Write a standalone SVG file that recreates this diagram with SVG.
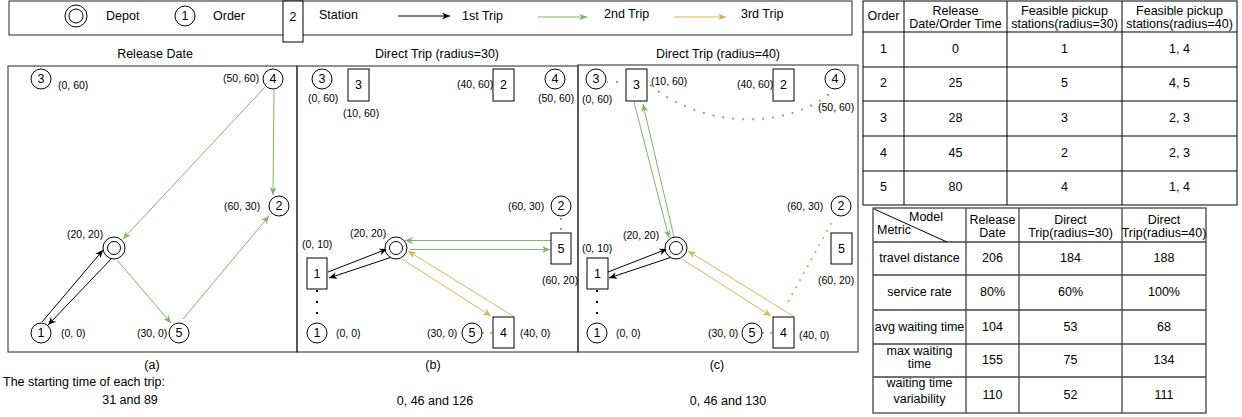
<svg xmlns="http://www.w3.org/2000/svg" width="1242" height="417" viewBox="0 0 1242 417">
<defs>
<style>
text{font-family:"Liberation Sans",Arial,Helvetica,sans-serif;fill:#000;}
.t{font-size:12.5px;}
.c{font-size:10.5px;dominant-baseline:central;}
.m{text-anchor:middle;dominant-baseline:central;font-size:12.5px;}
.l{dominant-baseline:central;font-size:12.5px;}
.nd{fill:#fff;stroke:#000;stroke-width:1;}
.box{fill:none;stroke:#222;stroke-width:1;}
.tb{fill:none;stroke:#000;stroke-width:1;}
.tb2{fill:none;stroke:#444;stroke-width:1.3;}
.k{stroke:#000;stroke-width:1;fill:none;}
.g{stroke:#82b366;stroke-width:1;fill:none;}
.y{stroke:#d6b656;stroke-width:1;fill:none;}
.gd{stroke:#82b366;stroke-width:2;fill:none;stroke-dasharray:2 8;}
.yd{stroke:#d6b656;stroke-width:2;fill:none;stroke-dasharray:2 6;}
.kd{stroke:#000;stroke-width:2;fill:none;stroke-dasharray:2 9;}
</style>
<marker id="ak" markerUnits="userSpaceOnUse" markerWidth="9" markerHeight="8" refX="8" refY="3.5" orient="auto"><path d="M0,0 L8,3.5 L0,7 L2.5,3.5 Z" fill="#000"/></marker>
<marker id="ag" markerUnits="userSpaceOnUse" markerWidth="9" markerHeight="8" refX="8" refY="3.5" orient="auto"><path d="M0,0 L8,3.5 L0,7 L2.5,3.5 Z" fill="#82b366"/></marker>
<marker id="ay" markerUnits="userSpaceOnUse" markerWidth="9" markerHeight="8" refX="8" refY="3.5" orient="auto"><path d="M0,0 L8,3.5 L0,7 L2.5,3.5 Z" fill="#d6b656"/></marker>
</defs>
<rect width="1242" height="417" fill="#fff"/>

<!-- Legend -->
<g id="legend">
<rect x="9" y="1" width="843" height="34" class="box"/>
<circle cx="76" cy="16" r="11" class="nd"/><circle cx="76" cy="16" r="7" class="nd"/>
<text x="106" y="16" class="l">Depot</text>
<circle cx="185" cy="16" r="10" class="nd"/><text x="185" y="16" class="m">1</text>
<text x="213" y="16" class="l">Order</text>
<rect x="283" y="1" width="20" height="41" class="nd"/><text x="293" y="17" class="m">2</text>
<text x="319" y="15" class="l">Station</text>
<line x1="398" y1="16" x2="450" y2="16" class="k" marker-end="url(#ak)"/>
<text x="462" y="16" class="l">1st Trip</text>
<line x1="538" y1="17" x2="587" y2="17" class="g" marker-end="url(#ag)"/>
<text x="604" y="14" class="l">2nd Trip</text>
<line x1="674" y1="17" x2="726" y2="17" class="y" marker-end="url(#ay)"/>
<text x="741" y="14" class="l">3rd Trip</text>
</g>

<!-- Panel frames and titles -->
<g id="panels">
<rect x="8" y="66" width="289" height="286" class="box"/>
<rect x="297" y="66" width="281" height="286" class="box"/>
<rect x="578" y="65" width="280" height="287" class="box"/>
<text x="155" y="54" class="m">Release Date</text>
<text x="437" y="54" class="m">Direct Trip (radius=30)</text>
<text x="718" y="54" class="m">Direct Trip (radius=40)</text>
<text x="152" y="365" class="m">(a)</text>
<text x="433" y="365" class="m">(b)</text>
<text x="717" y="365" class="m">(c)</text>
<text x="3" y="382" class="l">The starting time of each trip:</text>
<text x="130" y="400" class="m">31 and 89</text>
<text x="435" y="401" class="m">0, 46 and 126</text>
<text x="728" y="401" class="m">0, 46 and 130</text>
</g>

<!-- Connectors -->
<g id="connectors">
<!-- (a) -->
<line x1="42" y1="322" x2="103" y2="250" class="k" marker-end="url(#ak)"/>
<line x1="112" y1="258" x2="48" y2="325" class="k" marker-end="url(#ak)"/>
<line x1="265" y1="87" x2="123" y2="239" class="g" marker-end="url(#ag)"/>
<line x1="274" y1="90" x2="273" y2="195" class="g" marker-end="url(#ag)"/>
<line x1="117" y1="260" x2="171" y2="323" class="g" marker-end="url(#ag)"/>
<line x1="183" y1="319" x2="269" y2="216" class="g" marker-end="url(#ag)"/>
<!-- (b) -->
<line x1="328" y1="272" x2="387" y2="249" class="k" marker-end="url(#ak)"/>
<line x1="392" y1="257" x2="329" y2="278" class="k" marker-end="url(#ak)"/>
<line x1="551" y1="240.5" x2="405" y2="240.5" class="g" marker-end="url(#ag)"/>
<line x1="410" y1="249.5" x2="550" y2="249.5" class="g" marker-end="url(#ag)"/>
<line x1="402" y1="259" x2="491" y2="316" class="y" marker-end="url(#ay)"/>
<line x1="513" y1="316" x2="408" y2="251" class="y" marker-end="url(#ay)"/>
<line x1="561" y1="216" x2="561" y2="233" class="gd" stroke-dasharray="2 10" stroke-dashoffset="-12"/>
<line x1="482" y1="333" x2="493" y2="333" class="yd" stroke-dasharray="2 4"/>
<line x1="317" y1="290" x2="317" y2="323" class="kd"/>
<!-- (c) -->
<line x1="608" y1="272" x2="667" y2="249" class="k" marker-end="url(#ak)"/>
<line x1="672" y1="257" x2="609" y2="278" class="k" marker-end="url(#ak)"/>
<line x1="634" y1="102" x2="669" y2="238" class="g" marker-end="url(#ag)"/>
<line x1="674" y1="237" x2="643" y2="104" class="g" marker-end="url(#ag)"/>
<line x1="682" y1="259" x2="771" y2="316" class="y" marker-end="url(#ay)"/>
<line x1="793" y1="316" x2="688" y2="251" class="y" marker-end="url(#ay)"/>
<line x1="607" y1="82" x2="626" y2="82" class="gd" stroke-dasharray="2 9" stroke-dashoffset="-9"/>
<path d="M650,85 C705,130 790,130 834,90" class="gd" stroke-dasharray="2 8.5"/>
<line x1="788" y1="302" x2="834" y2="218" class="yd" stroke-dasharray="2 8"/>
<line x1="762" y1="333" x2="773" y2="333" class="yd" stroke-dasharray="2 4"/>
<line x1="597" y1="290" x2="597" y2="323" class="kd"/>
</g>

<!-- (a) nodes -->
<g id="a-order3"><circle cx="41" cy="79" r="10" class="nd"/><text x="41" y="79" class="m">3</text><text x="58" y="85" class="c">(0, 60)</text></g>
<g id="a-order4"><circle cx="273" cy="79" r="10" class="nd"/><text x="273" y="79" class="m">4</text><text x="223" y="78" class="c">(50, 60)</text></g>
<g id="a-order2"><circle cx="279" cy="206" r="10" class="nd"/><text x="279" y="206" class="m">2</text><text x="224" y="206" class="c">(60, 30)</text></g>
<g id="a-depot"><circle cx="114" cy="248" r="11" class="nd"/><circle cx="114" cy="248" r="6.5" class="nd"/><text x="67" y="234" class="c">(20, 20)</text></g>
<g id="a-order1"><circle cx="41" cy="333" r="10" class="nd"/><text x="41" y="333" class="m">1</text><text x="61" y="333" class="c">(0, 0)</text></g>
<g id="a-order5"><circle cx="179" cy="333" r="10" class="nd"/><text x="179" y="333" class="m">5</text><text x="137" y="333" class="c">(30, 0)</text></g>

<!-- (b) nodes -->
<g id="b-order3"><circle cx="322" cy="79" r="10" class="nd"/><text x="322" y="79" class="m">3</text><text x="308" y="98" class="c">(0, 60)</text></g>
<g id="b-station3"><rect x="348" y="69" width="21" height="32" class="nd"/><text x="358.5" y="85" class="m">3</text><text x="343" y="113" class="c">(10, 60)</text></g>
<g id="b-station2"><rect x="493" y="69" width="21" height="32" class="nd"/><text x="503.5" y="85" class="m">2</text><text x="457" y="84" class="c">(40, 60)</text></g>
<g id="b-order4"><circle cx="555" cy="79" r="10" class="nd"/><text x="555" y="79" class="m">4</text><text x="538" y="98" class="c">(50, 60)</text></g>
<g id="b-order2"><circle cx="561" cy="206" r="10" class="nd"/><text x="561" y="206" class="m">2</text><text x="508" y="206" class="c">(60, 30)</text></g>
<g id="b-station5"><rect x="551" y="233" width="20" height="31" class="nd"/><text x="561" y="248.5" class="m">5</text><text x="542" y="280" class="c">(60, 20)</text></g>
<g id="b-depot"><circle cx="396" cy="248" r="11" class="nd"/><circle cx="396" cy="248" r="6.5" class="nd"/><text x="350" y="233" class="c">(20, 20)</text></g>
<g id="b-station1"><rect x="307" y="258" width="20" height="31" class="nd"/><text x="317" y="273.5" class="m">1</text><text x="302" y="244" class="c">(0, 10)</text></g>
<g id="b-order1"><circle cx="317" cy="333" r="10" class="nd"/><text x="317" y="333" class="m">1</text><text x="336" y="333" class="c">(0, 0)</text></g>
<g id="b-order5"><circle cx="472" cy="333" r="10" class="nd"/><text x="472" y="333" class="m">5</text><text x="427" y="333" class="c">(30, 0)</text></g>
<g id="b-station4"><rect x="493" y="317" width="21" height="31" class="nd"/><text x="503.5" y="332.5" class="m">4</text><text x="520" y="333" class="c">(40, 0)</text></g>

<!-- (c) nodes -->
<g id="c-order3"><circle cx="596" cy="79" r="10" class="nd"/><text x="596" y="79" class="m">3</text><text x="582" y="99" class="c">(0, 60)</text></g>
<g id="c-station3"><rect x="626" y="69" width="21" height="32" class="nd"/><text x="636.5" y="85" class="m">3</text><text x="651" y="81" class="c">(10, 60)</text></g>
<g id="c-station2"><rect x="773" y="69" width="21" height="32" class="nd"/><text x="783.5" y="85" class="m">2</text><text x="737" y="84" class="c">(40, 60)</text></g>
<g id="c-order4"><circle cx="835" cy="79" r="10" class="nd"/><text x="835" y="79" class="m">4</text><text x="818" y="107" class="c">(50, 60)</text></g>
<g id="c-order2"><circle cx="841" cy="206" r="10" class="nd"/><text x="841" y="206" class="m">2</text><text x="787" y="206" class="c">(60, 30)</text></g>
<g id="c-station5"><rect x="831" y="233" width="21" height="31" class="nd"/><text x="841.5" y="248.5" class="m">5</text><text x="818" y="280" class="c">(60, 20)</text></g>
<g id="c-depot"><circle cx="676" cy="248" r="11" class="nd"/><circle cx="676" cy="248" r="6.5" class="nd"/><text x="623" y="235" class="c">(20, 20)</text></g>
<g id="c-station1"><rect x="587" y="258" width="21" height="31" class="nd"/><text x="597.5" y="273.5" class="m">1</text><text x="582" y="248" class="c">(0, 10)</text></g>
<g id="c-order1"><circle cx="597" cy="333" r="10" class="nd"/><text x="597" y="333" class="m">1</text><text x="616" y="333" class="c">(0, 0)</text></g>
<g id="c-order5"><circle cx="752" cy="333" r="10" class="nd"/><text x="752" y="333" class="m">5</text><text x="708" y="333" class="c">(30, 0)</text></g>
<g id="c-station4"><rect x="773" y="317" width="21" height="31" class="nd"/><text x="783.5" y="332.5" class="m">4</text><text x="799" y="335" class="c">(40, 0)</text></g>

<!-- Table 1 -->
<g id="table-orders">
<rect x="863" y="1" width="374" height="204" class="tb"/>
<line x1="904" y1="1" x2="904" y2="205" class="tb"/>
<line x1="1007" y1="1" x2="1007" y2="205" class="tb"/>
<line x1="1122" y1="1" x2="1122" y2="205" class="tb"/>
<line x1="863" y1="32" x2="1237" y2="32" class="tb"/>
<line x1="863" y1="67" x2="1237" y2="67" class="tb"/>
<line x1="863" y1="101" x2="1237" y2="101" class="tb"/>
<line x1="863" y1="136" x2="1237" y2="136" class="tb"/>
<line x1="863" y1="171" x2="1237" y2="171" class="tb"/>
<text x="883.5" y="16" class="m">Order</text>
<text x="955.5" y="11" class="m">Release</text><text x="955.5" y="24" class="m">Date/Order Time</text>
<text x="1064.5" y="11" class="m">Feasible pickup</text><text x="1064.5" y="24" class="m">stations(radius=30)</text>
<text x="1179.5" y="11" class="m">Feasible pickup</text><text x="1179.5" y="24" class="m">stations(radius=40)</text>
<text x="883.5" y="49" class="m">1</text><text x="955.5" y="49" class="m">0</text><text x="1064.5" y="49" class="m">1</text><text x="1179.5" y="49" class="m">1, 4</text>
<text x="883.5" y="83" class="m">2</text><text x="955.5" y="83" class="m">25</text><text x="1064.5" y="83" class="m">5</text><text x="1179.5" y="83" class="m">4, 5</text>
<text x="883.5" y="118" class="m">3</text><text x="955.5" y="118" class="m">28</text><text x="1064.5" y="118" class="m">3</text><text x="1179.5" y="118" class="m">2, 3</text>
<text x="883.5" y="153" class="m">4</text><text x="955.5" y="153" class="m">45</text><text x="1064.5" y="153" class="m">2</text><text x="1179.5" y="153" class="m">2, 3</text>
<text x="883.5" y="187" class="m">5</text><text x="955.5" y="187" class="m">80</text><text x="1064.5" y="187" class="m">4</text><text x="1179.5" y="187" class="m">1, 4</text>
</g>

<!-- Table 2 -->
<g id="table-metrics">
<rect x="873" y="208" width="333" height="205" class="tb2"/>
<line x1="966" y1="208" x2="966" y2="413" class="tb2"/>
<line x1="1019" y1="208" x2="1019" y2="413" class="tb2"/>
<line x1="1122" y1="208" x2="1122" y2="413" class="tb2"/>
<line x1="873" y1="242" x2="1206" y2="242" class="tb2"/>
<line x1="873" y1="275" x2="1206" y2="275" class="tb2"/>
<line x1="873" y1="310" x2="1206" y2="310" class="tb2"/>
<line x1="873" y1="344" x2="1206" y2="344" class="tb2"/>
<line x1="873" y1="377" x2="1206" y2="377" class="tb2"/>
<line x1="874" y1="209" x2="947" y2="242" stroke="#000" stroke-width="1"/>
<text x="926" y="217" class="m">Model</text>
<text x="877" y="230" class="l">Metric</text>
<text x="992.5" y="220" class="m">Release</text><text x="992.5" y="233" class="m">Date</text>
<text x="1070.5" y="220" class="m">Direct</text><text x="1070.5" y="233" class="m">Trip(radius=30)</text>
<text x="1164" y="220" class="m">Direct</text><text x="1164" y="233" class="m">Trip(radius=40)</text>
<text x="919.5" y="258" class="m">travel distance</text><text x="992.5" y="258" class="m">206</text><text x="1070.5" y="258" class="m">184</text><text x="1164" y="258" class="m">188</text>
<text x="919.5" y="292" class="m">service rate</text><text x="992.5" y="292" class="m">80%</text><text x="1070.5" y="292" class="m">60%</text><text x="1164" y="292" class="m">100%</text>
<text x="919.5" y="327" class="m">avg waiting time</text><text x="992.5" y="327" class="m">104</text><text x="1070.5" y="327" class="m">53</text><text x="1164" y="327" class="m">68</text>
<text x="919.5" y="351" class="m">max waiting</text><text x="919.5" y="364" class="m">time</text><text x="992.5" y="360" class="m">155</text><text x="1070.5" y="360" class="m">75</text><text x="1164" y="360" class="m">134</text>
<text x="919.5" y="383" class="m">waiting time</text><text x="919.5" y="399" class="m">variability</text><text x="992.5" y="395" class="m">110</text><text x="1070.5" y="395" class="m">52</text><text x="1164" y="395" class="m">111</text>
</g>
</svg>
